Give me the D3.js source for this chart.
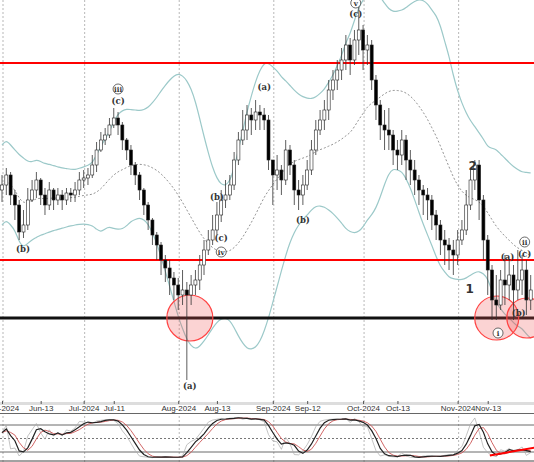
<!DOCTYPE html>
<html><head><meta charset="utf-8">
<script src="https://cdn.jsdelivr.net/npm/d3@7"></script>
<style>body{margin:0;background:#fff}svg{display:block}</style>
</head><body>
<svg id="c" width="534" height="462"></svg>
<script>
var closes = [2615,2625,2605,2595,2568,2575,2600,2610,2620,2605,2595,2610,2600,2605,2600,2607,2605,2610,2620,2622,
  2625,2635,2650,2660,2665,2675,2682,
  2675,2660,2650,2635,2625,2610,2595,2580,2565,2555,2540,2532,2522,2515,2505,
  2510,2505,2515,2520,2535,2550,2560,2570,
  2585,2600,2605,2615,2640,2660,2670,2685,2680,
  2688,2685,2680,2640,2625,2630,
  2620,2650,2635,2610,2605,2615,2630,
  2650,2670,2680,2690,2710,2720,2730,2740,2755,2740,2760,2770,
  2750,2755,2720,2695,2675,2670,2665,
  2650,2645,2660,2640,2630,2620,2610,2605,2600,2585,2575,2560,2555,2550,2545,2560,
  2570,2595,2620,2635,2600,2560,
  2530,2500,2495,2520,2515,2525,2510,2520,2530,2500,2510];
var highs = [2625,2632,2628,2610,2600,2590,2612,2620,2628,2622,2612,2618,2612,2612,2610,2612,2612,2618,2628,2630,
  2632,2645,2658,2668,2672,2682,2692,
  2688,2678,2662,2655,2638,2628,2612,2598,2582,2568,2558,2545,2540,2528,2522,
  2530,2518,2525,2530,2545,2560,2570,2585,
  2598,2610,2620,2625,2648,2668,2690,2695,2692,
  2700,2695,2692,2685,2640,2645,
  2635,2660,2655,2640,2620,2625,2640,
  2660,2680,2690,2700,2720,2730,2740,2752,2765,2762,2770,2795,
  2775,2765,2760,2725,2700,2690,2692,
  2670,2660,2670,2665,2650,2640,2625,2615,2612,2605,2590,2580,2570,2562,2560,2570,
  2580,2610,2632,2640,2640,2605,
  2565,2535,2525,2530,2545,2540,2535,2550,2545,2540,2525];
var lows = [2598,2605,2595,2580,2560,2562,2570,2598,2602,2595,2585,2590,2590,2595,2590,2595,2598,2598,2605,2612,
  2615,2622,2628,2648,2655,2662,2672,
  2665,2650,2640,2625,2615,2600,2585,2570,2555,2540,2525,2518,2505,2500,2490,
  2495,2420,2495,2505,2510,2525,2545,2555,
  2565,2578,2592,2600,2610,2635,2655,2660,2665,
  2670,2670,2670,2630,2595,2610,
  2605,2615,2625,2595,2590,2595,2610,
  2625,2645,2665,2670,2680,2700,2710,2720,2730,2725,2735,2745,
  2730,2735,2710,2680,2660,2650,2650,
  2635,2630,2635,2620,2615,2605,2595,2585,2580,2570,2560,2545,2535,2530,2525,2535,
  2555,2565,2590,2610,2580,2540,
  2505,2480,2480,2490,2495,2500,2480,2500,2505,2485,2490];
var firstOpen = 2610;

var tickIdx = [0,9,19,26,41,50,63,71,84,92,106,113];
var tickLabels = ["Jun-2024","Jun-13","Jul-2024","Jul-11","Aug-2024","Aug-13","Sep-2024","Sep-12","Oct-2024","Oct-13","Nov-2024","Nov-13"];
var monthIdx = [0,19,41,63,84,106];

var levelsRed = [2737,2540];
var levelBlack = 2482;

// [index, price, text, circled]
var labels = [
  [4.9,2551,"(b)",0],[27,2699,"(c)",0],[27,2711,"iii",1],[43.7,2414,"(a)",0],
  [50,2603,"(b)",0],[51,2562,"(c)",0],[51,2548,"iv",1],[61,2713,"(a)",0],
  [70,2580,"(b)",0],[82.3,2786,"(c)",0],[82.3,2797,"v",1],
  [117.6,2543,"(a)",0],[121.6,2546,"(c)",0],[121.6,2558,"ii",1],
  [115.4,2467,"i",1],[120.2,2487,"(b)",0]
];
var waveNums = [[109.5,2635,"2"],[108.8,2512,"1"]];
var zones = [[43.7,23],[115.1,22],[122.1,20]];

var svg = d3.select("#c");
var x = d3.scaleLinear().domain([0,124]).range([2,535]);
var y = d3.scaleLinear().domain([2800,2398]).range([0,402]);
var ys = d3.scaleLinear().domain([0,100]).range([461,416]);

var data = closes.map(function(c,i){
  return {i:i, o: i==0 ? firstOpen : closes[i-1], c:c, h:highs[i], l:lows[i]};
});

// bollinger 20,2
var bb = data.map(function(d,i){
  var w = closes.slice(Math.max(0,i-19), i+1);
  var m = d3.mean(w), s = d3.deviation(w) || 0;
  if (w.length < 5) s = 20;
  return {i:i, m:m, u:m+2*s, l:m-2*s};
});

// stochastic 14,3,3
var rawK = data.map(function(d,i){
  var a = Math.max(0,i-13);
  var hh = d3.max(highs.slice(a,i+1)), ll = d3.min(lows.slice(a,i+1));
  return hh==ll ? 50 : (d.c-ll)/(hh-ll)*100;
});
var sma = function(arr,n){ return arr.map(function(v,i){ return d3.mean(arr.slice(Math.max(0,i-n+1),i+1)); }); };
var kLine = sma(rawK,3), dLine = sma(kLine,3);

// month gridlines
svg.selectAll(".vg").data(monthIdx).enter().append("line")
  .attr("x1",d=>x(d)+1).attr("x2",d=>x(d)+1).attr("y1",0).attr("y2",462)
  .attr("stroke","#999").attr("stroke-dasharray","2,2").attr("stroke-width",0.7);

// bands
var bline = function(k){ return d3.line().x(d=>x(d.i)).y(d=>y(d[k])).curve(d3.curveBasis); };
["u","l"].forEach(function(k){
  svg.append("path").datum(bb).attr("d",bline(k)).attr("fill","none").attr("stroke","#9cc9c9").attr("stroke-width",1.2);
});
svg.append("path").datum(bb).attr("d",bline("m")).attr("fill","none").attr("stroke","#777").attr("stroke-dasharray","2,2").attr("stroke-width",0.8);

// levels
levelsRed.forEach(function(p){
  svg.append("line").attr("x1",0).attr("x2",534).attr("y1",y(p)).attr("y2",y(p)).attr("stroke","#f00").attr("stroke-width",2);
});
svg.append("line").attr("x1",0).attr("x2",534).attr("y1",y(levelBlack)).attr("y2",y(levelBlack)).attr("stroke","#111").attr("stroke-width",3);

// zones
svg.selectAll(".z").data(zones).enter().append("circle")
  .attr("cx",d=>x(d[0])).attr("cy",y(levelBlack)).attr("r",d=>d[1])
  .attr("fill","rgba(240,80,80,0.25)").attr("stroke","#f44").attr("stroke-width",1.2);

// candles
var cw = 3;
var g = svg.append("g");
g.selectAll(".wick").data(data).enter().append("line")
  .attr("x1",d=>x(d.i)).attr("x2",d=>x(d.i)).attr("y1",d=>y(d.h)).attr("y2",d=>y(d.l))
  .attr("stroke","#333").attr("stroke-width",0.8);
g.selectAll(".body").data(data).enter().append("rect")
  .attr("x",d=>x(d.i)-cw/2).attr("width",cw)
  .attr("y",d=>y(Math.max(d.o,d.c))).attr("height",d=>Math.max(1,Math.abs(y(d.o)-y(d.c))))
  .attr("fill",d=>d.c>=d.o?"#fff":"#000").attr("stroke","#222").attr("stroke-width",0.6);

// labels
var lg = svg.append("g").attr("font-family","DejaVu Serif, serif").attr("font-size",9).attr("font-weight","bold").attr("fill","#333");
labels.forEach(function(l){
  if (l[3]) lg.append("circle").attr("cx",x(l[0])).attr("cy",y(l[1])).attr("r",5).attr("fill","#fff").attr("stroke","#444").attr("stroke-width",0.8);
  lg.append("text").attr("x",x(l[0])).attr("y",y(l[1])+3).attr("text-anchor","middle")
    .attr("font-size",l[3]?7:8.5).text(l[2]);
});
waveNums.forEach(function(w){
  svg.append("text").attr("x",x(w[0])).attr("y",y(w[1])+5).attr("text-anchor","middle")
    .attr("font-family","DejaVu Sans, sans-serif").attr("font-size",12).attr("font-weight","bold").attr("fill","#333").text(w[2]);
});

// time axis strip
svg.append("rect").attr("x",0).attr("y",402).attr("width",534).attr("height",3).attr("fill","#ddd");
svg.append("line").attr("x1",0).attr("x2",534).attr("y1",413.5).attr("y2",413.5).attr("stroke","#666");
svg.append("rect").attr("x",0).attr("y",405).attr("width",534).attr("height",8).attr("fill","#fff");
var xa = d3.axisTop(x).tickValues(tickIdx).tickFormat((d,i)=>tickLabels[i]).tickSize(3);
var ag = svg.append("g").attr("transform","translate(0,413)").call(xa);
ag.select(".domain").remove();
ag.selectAll("text").attr("font-family","Liberation Sans, Arial, sans-serif").attr("font-size",8).attr("fill","#333").attr("dy","0.3em").attr("y",-4);
ag.selectAll(".tick line").attr("transform","translate(0,-9)").attr("stroke","#555");

// stochastic panel
[80,20].forEach(function(v){
  svg.append("line").attr("x1",0).attr("x2",534).attr("y1",ys(v)).attr("y2",ys(v)).attr("stroke","#444").attr("stroke-width",0.8);
});
svg.append("line").attr("x1",0).attr("x2",534).attr("y1",ys(50)).attr("y2",ys(50)).attr("stroke","#777").attr("stroke-dasharray","2,2");
svg.append("line").attr("x1",0).attr("x2",534).attr("y1",461).attr("y2",461).attr("stroke","#444");
var sl = d3.line().x((d,i)=>x(i)).y(d=>ys(d));
svg.append("path").datum(rawK).attr("d",sl).attr("fill","none").attr("stroke","#aaa").attr("stroke-width",0.7);
svg.append("path").datum(dLine).attr("d",sl).attr("fill","none").attr("stroke","#c55").attr("stroke-width",0.9);
svg.append("path").datum(kLine).attr("d",sl).attr("fill","none").attr("stroke","#222").attr("stroke-width",1.2);
svg.append("line").attr("x1",x(113.5)).attr("x2",x(124)).attr("y1",ys(12)).attr("y2",ys(30)).attr("stroke","#f00").attr("stroke-width",2);
</script>
</body></html>
